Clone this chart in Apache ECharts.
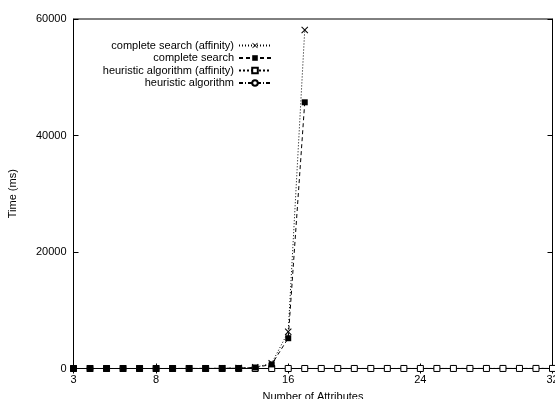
<!DOCTYPE html>
<html>
<head>
<meta charset="utf-8">
<script src="https://cdn.jsdelivr.net/npm/echarts@6/dist/echarts.min.js"></script>
<style>html,body{margin:0;padding:0;background:#fff;}#c{width:555px;height:399px;}</style>
</head>
<body>
<div id="c"></div>
<script>
const attrs = [3,4,5,6,7,8,9,10,11,12,13,14,15,16,17,18,19,20,21,22,23,24,25,26,27,28,29,30,31,32];
const completeAffinity = [0,0,1,1,2,3,5,10,20,40,90,200,900,6300,58100];
const completeSearch   = [0,0,1,1,2,3,5,9,18,36,80,170,700,5200,45700];
const heuristicAffinity = [0,0,0,0,0,0,0,1,1,1,1,1,2,2,2,3,3,3,4,4,5,5,6,6,7,8,9,10,11,12];
const heuristic         = [0,0,0,0,0,0,0,1,1,1,1,1,2,2,2,3,3,3,4,4,5,5,6,6,7,8,9,10,11,12];
const xTicks = [3,8,16,24,32];
const yTicks = [0,20000,40000,60000];
const names = ['complete search (affinity)','complete search','heuristic algorithm (affinity)','heuristic algorithm'];

const pair = (vals) => vals.map((v,i)=>[attrs[i], v]);
const font = 'Liberation Sans, Arial, Helvetica, sans-serif';
const xSym = 'path://M0,1L1,0L5,4L9,0L10,1L6,5L10,9L9,10L5,6L1,10L0,9L4,5Z';

const chart = echarts.init(document.getElementById('c'), null, {renderer:'canvas'});
const baseX = {
  type:'value', min:3, max:32,
  splitLine:{show:false},
  axisLine:{show:true, lineStyle:{color:'#000', width:1}},
  axisTick:{show:true, inside:true, length:5, customValues:xTicks, lineStyle:{color:'#000'}},
  axisLabel:{show:true, customValues:xTicks, color:'#000', fontSize:11, fontFamily:font, margin:6}
};
const baseY = {
  type:'value', min:0, max:60000,
  splitLine:{show:false},
  axisLine:{show:true, lineStyle:{color:'#000', width:1}},
  axisTick:{show:true, inside:true, length:5, customValues:yTicks, lineStyle:{color:'#000'}},
  axisLabel:{show:true, customValues:yTicks, formatter:(v)=>String(v), color:'#000', fontSize:11, fontFamily:font, margin:7}
};
const legendTops = [40, 52.5, 65, 77.5];
const legends = names.map((n,i)=>({
  data:[n], right:283, top:legendTops[i], align:'right', orient:'vertical',
  itemWidth:32, itemHeight:7, itemGap:0, padding:0, selectedMode:false,
  textStyle:{color:'#000', fontSize:11, fontFamily:font, padding:[0,0,0,0]}
}));
const common = {type:'line', animation:false, showAllSymbol:true, lineStyle:{color:'#000', width:1}};
chart.setOption({
  animation:false,
  backgroundColor:'#fff',
  grid:{left:73.5, right:2.5, top:19, bottom:30.5, show:true, borderColor:'#000', borderWidth:1,
        containLabel:false, outerBoundsMode:'none'},
  legend: legends,
  xAxis:[
    Object.assign({}, baseX, {position:'bottom', name:'Number of Attributes', nameLocation:'middle', nameGap:23,
      nameTextStyle:{color:'#000', fontSize:11, fontFamily:font}}),
    Object.assign({}, baseX, {position:'top', axisLabel:{show:false}})
  ],
  yAxis:[
    Object.assign({}, baseY, {position:'left', name:'Time (ms)', nameLocation:'middle', nameGap:55,
      nameTextStyle:{color:'#000', fontSize:11, fontFamily:font}}),
    Object.assign({}, baseY, {position:'right', axisLabel:{show:false}})
  ],
  series:[
    Object.assign({}, common, {name:names[3], data:pair(heuristic), symbol:'circle', symbolSize:6,
      lineStyle:{color:'#000', width:1, type:[4,2,1,2]},
      itemStyle:{color:'#fff', borderColor:'#000', borderWidth:1}}),
    Object.assign({}, common, {name:names[2], data:pair(heuristicAffinity), symbol:'rect', symbolSize:6,
      lineStyle:{color:'#000', width:1, type:[2,2]},
      itemStyle:{color:'#fff', borderColor:'#000', borderWidth:1}}),
    Object.assign({}, common, {name:names[0], data:pair(completeAffinity), symbol:xSym, symbolSize:7,
      lineStyle:{color:'#000', width:1, type:[1,2]},
      itemStyle:{color:'#000', borderWidth:0}}),
    Object.assign({}, common, {name:names[1], data:pair(completeSearch), symbol:'rect', symbolSize:6,
      lineStyle:{color:'#000', width:1, type:[4,3]},
      itemStyle:{color:'#000', borderWidth:0}})
  ]
});
</script>
</body>
</html>
